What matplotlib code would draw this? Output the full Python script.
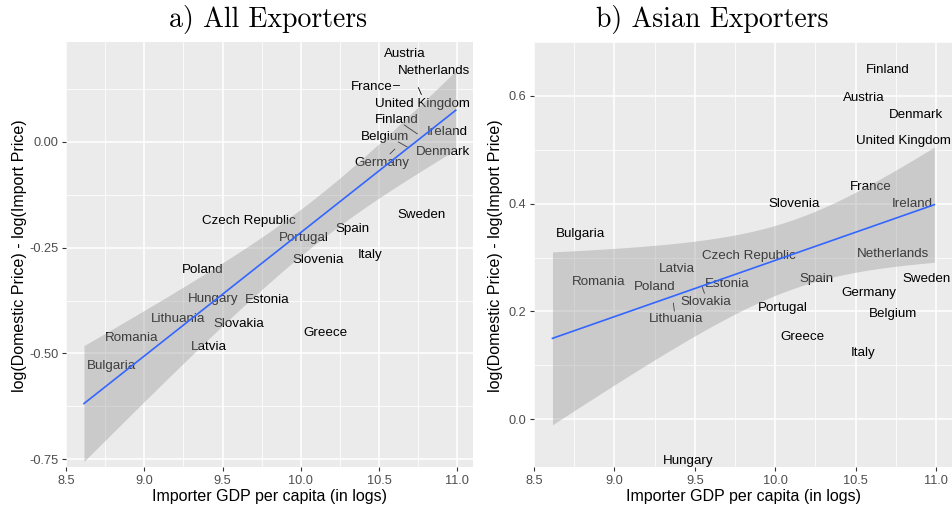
import matplotlib
matplotlib.use("Agg")
import matplotlib.pyplot as plt
import numpy as np

plt.rcParams['font.family'] = ['Liberation Sans', 'DejaVu Sans']
plt.rcParams['axes.unicode_minus'] = False

# a) all exporters: label positions (log importer GDP per capita, log price gap)
all_names = ['Austria', 'Netherlands', 'France', 'United Kingdom', 'Finland',
             'Ireland', 'Belgium', 'Denmark', 'Germany', 'Sweden',
             'Czech Republic', 'Spain', 'Portugal', 'Italy', 'Slovenia',
             'Poland', 'Hungary', 'Estonia', 'Lithuania', 'Slovakia',
             'Greece', 'Romania', 'Latvia', 'Bulgaria']
all_gdp = [10.667, 10.853, 10.45, 10.78, 10.61, 10.936, 10.54, 10.91, 10.52,
           10.77, 9.67, 10.33, 10.02, 10.44, 10.11, 9.37, 9.44, 9.785, 9.216,
           9.606, 10.16, 8.92, 9.414, 8.79]
all_gap = [0.211, 0.171, 0.133, 0.093, 0.055, 0.025, 0.015, -0.022, -0.046,
           -0.169, -0.183, -0.202, -0.225, -0.265, -0.275, -0.30, -0.367,
           -0.371, -0.414, -0.426, -0.447, -0.461, -0.482, -0.527]
# leader lines for labels pushed off their points: (x0, x1), (y0, y1)
all_links = [((10.591, 10.629), (0.133, 0.133)),
             ((10.751, 10.77), (0.127, 0.111)),
             ((10.661, 10.744), (0.039, 0.018)),
             ((10.623, 10.68), (-0.001, -0.013)),
             ((10.57, 10.60), (-0.029, -0.018))]

# b) asian exporters
asia_names = ['Finland', 'Austria', 'Denmark', 'United Kingdom', 'France',
              'Slovenia', 'Ireland', 'Bulgaria', 'Czech Republic', 'Netherlands',
              'Latvia', 'Romania', 'Poland', 'Estonia', 'Spain', 'Sweden',
              'Germany', 'Slovakia', 'Portugal', 'Belgium', 'Lithuania',
              'Greece', 'Italy', 'Hungary']
asia_gdp = [10.70, 10.55, 10.875, 10.80, 10.595, 10.12, 10.85, 8.787, 9.834,
            10.73, 9.39, 8.905, 9.25, 9.70, 10.26, 10.94, 10.58, 9.57, 10.05,
            10.73, 9.385, 10.17, 10.545, 9.46]
asia_gap = [0.65, 0.598, 0.568, 0.52, 0.433, 0.403, 0.403, 0.346, 0.305, 0.31,
            0.281, 0.258, 0.249, 0.253, 0.264, 0.264, 0.238, 0.22, 0.209, 0.199,
            0.188, 0.155, 0.125, -0.074]
asia_links = [((9.547, 9.56), (0.245, 0.234)),
              ((9.367, 9.373), (0.2155, 0.2009))]

gdp_range = (8.615, 10.99)
t_crit = 2.074  # 97.5% t quantile, 22 df


def panel(ax, names, gdp, gap, links, xlim, ylim, yticks, yfmt):
    ax.set_facecolor('#EBEBEB')
    for s in ax.spines.values():
        s.set_visible(False)
    ax.set_axisbelow(True)
    xt = np.arange(8.5, 11.01, 0.5)
    ax.set_xticks(xt)
    ax.set_xticklabels(['%.1f' % v for v in xt])
    ax.set_xticks(xt[:-1] + 0.25, minor=True)
    ax.set_yticks(yticks)
    ax.set_yticklabels([yfmt % v for v in yticks])
    step = yticks[1] - yticks[0]
    ax.set_yticks(np.append(yticks - step / 2, yticks[-1] + step / 2), minor=True)
    ax.set_xlim(*xlim)
    ax.set_ylim(*ylim)
    ax.grid(which='major', color='white', lw=1.1)
    ax.grid(which='minor', color='white', lw=0.55)
    ax.tick_params(which='major', length=3, width=0.8, color='#333333',
                   labelsize=9.2, labelcolor='#4D4D4D', pad=2.5)
    ax.tick_params(which='minor', length=0)

    for n, x, y in zip(names, gdp, gap):
        ax.text(x, y, n, ha='center', va='center_baseline', fontsize=9.6,
                color='black', zorder=2)
    for (xs, ys) in links:
        ax.plot(xs, ys, color='black', lw=0.6, zorder=2)

    # OLS fit with 95% confidence band
    x = np.array(gdp)
    y = np.array(gap)
    b, a = np.polyfit(x, y, 1)
    n = len(x)
    resid = y - (a + b * x)
    s = np.sqrt(np.sum(resid ** 2) / (n - 2))
    sxx = np.sum((x - x.mean()) ** 2)
    xs = np.linspace(gdp_range[0], gdp_range[1], 100)
    fit = a + b * xs
    se = s * np.sqrt(1.0 / n + (xs - x.mean()) ** 2 / sxx)
    ax.fill_between(xs, fit - t_crit * se, fit + t_crit * se,
                    color='#999999', alpha=0.4, lw=0, zorder=3)
    ax.plot(xs, fit, color='#3366FF', lw=1.2, zorder=4)


W, H = 952, 507
fig = plt.figure(figsize=(W / 100, H / 100), dpi=100)
ax1 = fig.add_axes([66 / W, 1 - 467 / H, 407 / W, 425 / H])
ax2 = fig.add_axes([534 / W, 1 - 467 / H, 418 / W, 425 / H])

panel(ax1, all_names, all_gdp, all_gap, all_links, (8.5, 11.1),
      (-0.7677, 0.2347), np.array([-0.75, -0.50, -0.25, 0.0]), '%.2f')
panel(ax2, asia_names, asia_gdp, asia_gap, asia_links, (8.5, 11.1),
      (-0.0885, 0.70), np.array([0.0, 0.2, 0.4, 0.6]), '%.1f')

fig.text(268.5 / W, 1 - 19 / H, 'a) All Exporters', family='cmr10',
         fontsize=20, ha='center', va='center')
fig.text(712 / W, 1 - 19 / H, 'b) Asian Exporters', family='cmr10',
         fontsize=20, ha='center', va='center')

ylab = 'log(Domestic Price) - log(Import Price)'
xlab = 'Importer GDP per capita (in logs)'
fig.text(20 / W, 1 - 256 / H, ylab, rotation=90, fontsize=11.5,
         ha='center', va='center')
fig.text(495 / W, 1 - 256 / H, ylab, rotation=90, fontsize=11.5,
         ha='center', va='center')
fig.text(269.5 / W, 1 - 496 / H, xlab, fontsize=11.5, ha='center', va='center')
fig.text(743 / W, 1 - 496 / H, xlab, fontsize=11.5, ha='center', va='center')

fig.savefig('out.png', dpi=100)
